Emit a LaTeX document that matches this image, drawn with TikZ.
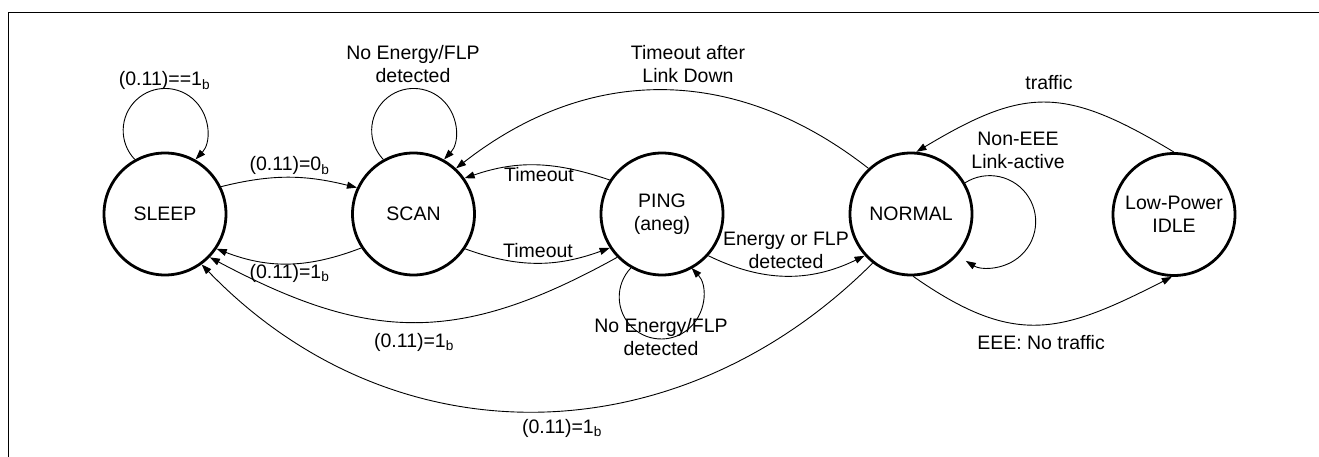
\documentclass[tikz,border=0pt]{standalone}
\usepackage{fontspec}
\setmainfont{Liberation Sans}
\usetikzlibrary{arrows.meta}
\begin{document}
\begin{tikzpicture}[x=1pt,y=1pt,
  every node/.style={font=\fontsize{19.5}{23}\selectfont},
  state/.style={circle,draw,line width=2.8pt,minimum size=122pt,inner sep=0pt,fill=white},
  arr/.style={line width=0.9pt,-{Triangle[length=10pt,width=7pt]}},
  lbl/.style={anchor=base,inner sep=0pt,align=center},
  frame/.style={line width=1.3pt}]
\useasboundingbox (0,0) rectangle (1319,457);
% frame
\coordinate (fb) at (8.3,0);
\coordinate (ftl) at (8.3,444.7);
\coordinate (ftr) at (1319,444.7);
\draw[frame] (fb) -- (ftl) -- (ftr);
% states
\node[state] (sleep) at (165,243) {SLEEP};
\node[state] (scan) at (413.5,243) {SCAN};
\node[state,align=center] (ping) at (662,243) {PING\\(aneg)};
\node[state] (normal) at (911,243) {NORMAL};
\node[state,align=center] (idle) at (1174,242.5) {Low-Power\\IDLE};
% self loops
\draw[arr] (sleep.119.5) arc[start angle=223.6,end angle=-43.6,radius=42pt];
\draw[arr] (scan.119.5) arc[start angle=223.6,end angle=-43.6,radius=42pt];
\draw[arr] (ping.240.5) arc[start angle=136.4,end angle=403.6,radius=42pt];
\draw[arr] (normal.30) arc[start angle=122.4,end angle=-121.3,radius=46pt];
% transitions
\draw[arr] (sleep.26) to[out=14,in=166] (scan.155);
\draw[arr] (scan.213) to[out=201,in=-21] (sleep.-34);
\draw[arr] (ping.147) to[out=161,in=19] (scan.35);
\draw[arr] (scan.-34) to[out=-20,in=200] (ping.213);
\draw[arr] (ping.-42) to[out=-26,in=206] (normal.222);
\draw[arr] (normal.133) to[out=142,in=38,looseness=1.05] (scan.47);
\draw[arr] (ping.224) to[out=209,in=-28,looseness=1.14] (sleep.-44);
\draw[arr] (normal.232) to[out=225,in=-46,looseness=1.05] (sleep.-54);
\draw[arr] (idle.90) to[out=149,in=31,looseness=1.27] (normal.85);
\draw[arr] (normal.-88) to[out=-35,in=207,looseness=1.23] (idle.268);
% labels (multi-line labels are anchored at the baseline of their last line)
\node[lbl] (l1) at (164.5,371) {(0.11)==1\textsubscript{b}};
\node[lbl] (l2) at (413,374.7) {No Energy/FLP\\detected};
\node[lbl] (l3) at (688,374.7) {Timeout after\\Link Down};
\node[lbl] (l4) at (1049,367.5) {traffic};
\node[lbl] (l5) at (1018,288.7) {Non-EEE\\Link-active};
\node[lbl] (l6) at (289.5,286) {(0.11)=0\textsubscript{b}};
\node[lbl] (l7) at (289.5,178.7) {(0.11)=1\textsubscript{b}};
\node[lbl] (l8) at (539,275.3) {Timeout};
\node[lbl] (l9) at (538,199.3) {Timeout};
\node[lbl] (l10) at (786,188.7) {Energy or FLP\\detected};
\node[lbl] (l11) at (661,101) {No Energy/FLP\\detected};
\node[lbl] (l12) at (414,109.7) {(0.11)=1\textsubscript{b}};
\node[lbl] (l13) at (562,23.7) {(0.11)=1\textsubscript{b}};
\node[lbl] (l14) at (1041,107) {EEE: No traffic};
\end{tikzpicture}
\end{document}
